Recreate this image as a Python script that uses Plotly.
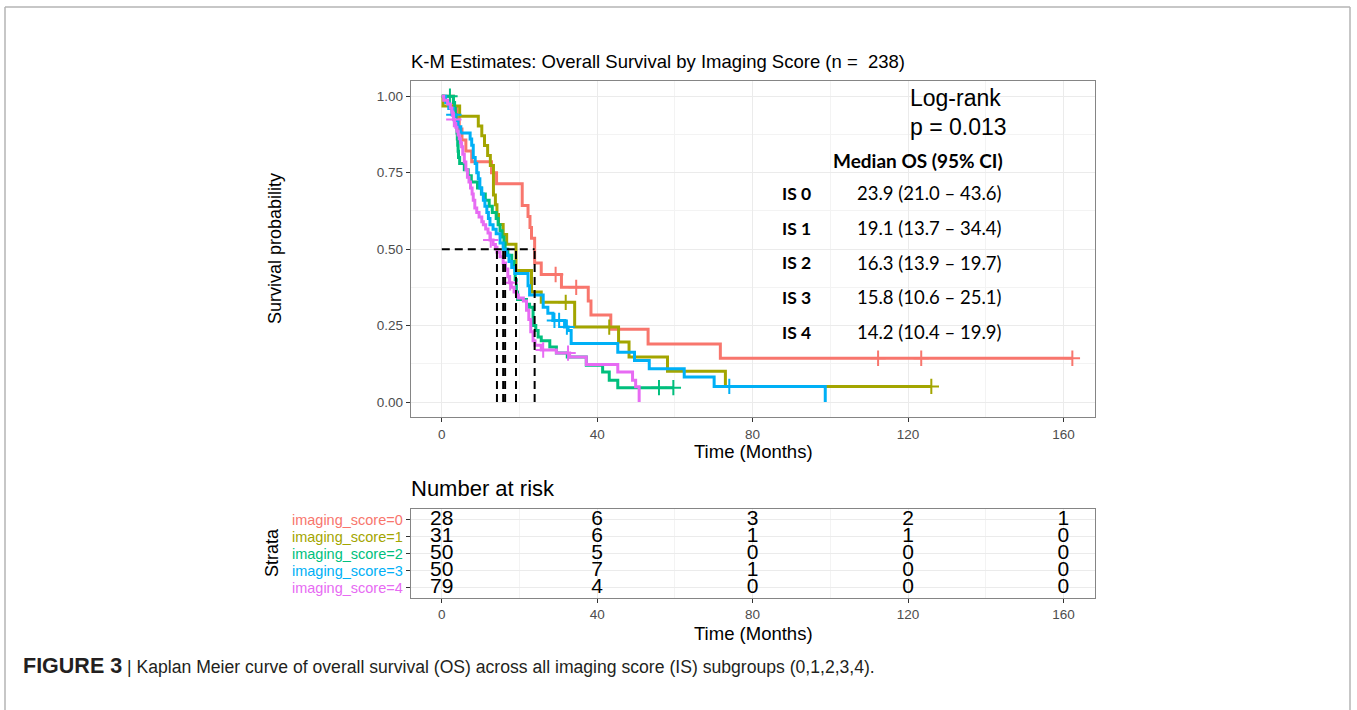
import plotly.graph_objects as go

# ---------------- data ----------------
strata = ["imaging_score=0", "imaging_score=1", "imaging_score=2", "imaging_score=3", "imaging_score=4"]
colors = ["#F8766D", "#A3A500", "#00BF7D", "#00B0F6", "#E76BF3"]

times_is0 = [3.0, 3.8, 4.5, 5.2, 6.2, 7.7, 12.8, 14.1, 20.7, 22.2, 22.7, 23.1, 23.9, 25.6, 30.8, 37.7, 38.4, 43.5, 53.1, 71.7]
surv_is0 = [0.964, 0.929, 0.893, 0.857, 0.821, 0.786, 0.750, 0.714, 0.643, 0.607, 0.571, 0.536, 0.455, 0.417, 0.375, 0.330, 0.285, 0.238, 0.190, 0.143]
cens_is0 = [29.3, 34.6, 112.3, 123.4, 162.3]
end_is0 = 162.3

times_is1 = [0.3, 4.6, 9.4, 10.3, 11.0, 11.8, 12.5, 13.3, 13.8, 14.2, 14.6, 15.8, 16.7, 19.1, 23.1, 25.6, 34.2, 45.5, 48.2, 58.1, 73.0]
surv_is1 = [0.968, 0.935, 0.903, 0.871, 0.839, 0.806, 0.774, 0.677, 0.645, 0.613, 0.581, 0.548, 0.516, 0.430, 0.360, 0.326, 0.245, 0.196, 0.147, 0.101, 0.051]
cens_is1 = [31.9, 43.1, 126.0]
end_is1 = 126.0

times_is2 = [3.0, 3.3, 3.5, 3.7, 3.8, 3.9, 4.0, 4.1, 4.2, 4.3, 4.6, 5.8, 6.8, 7.6, 9.2, 10.2, 11.2, 12.2, 13.0, 14.0,
             14.5, 15.0, 15.5, 16.0, 16.3, 17.0, 18.0, 18.6, 18.9, 19.2, 19.5, 21.8, 22.6, 23.5, 24.2, 24.8, 25.6, 27.8, 29.5, 32.3,
             37.2, 41.4, 43.1, 45.3]
surv_is2 = [0.98, 0.96, 0.94, 0.92, 0.90, 0.88, 0.86, 0.84, 0.82, 0.80, 0.78, 0.76, 0.74, 0.72, 0.70, 0.68, 0.66, 0.64, 0.62, 0.60,
            0.58, 0.56, 0.54, 0.52, 0.50, 0.48, 0.46, 0.44, 0.40, 0.36, 0.335, 0.32, 0.31, 0.25, 0.234, 0.213, 0.20, 0.18, 0.16, 0.147,
            0.12, 0.098, 0.071, 0.047]
cens_is2 = [2.1, 55.9, 59.6]
end_is2 = 59.6

times_is3 = [1.0, 1.8, 2.6, 3.4, 4.2, 4.9, 7.3, 7.7, 8.1, 8.6, 9.0, 9.4, 9.8, 10.3, 10.7, 11.1, 11.6, 12.0, 12.4, 13.2,
             14.0, 15.0, 15.8, 16.7, 17.3, 18.0, 18.8, 22.2, 22.6, 26.1, 27.3, 28.6, 31.6, 32.5, 33.3, 45.3, 49.6, 53.4, 62.4, 70.1,
             98.7]
surv_is3 = [0.98, 0.96, 0.94, 0.92, 0.90, 0.88, 0.86, 0.84, 0.80, 0.78, 0.75, 0.73, 0.70, 0.68, 0.66, 0.64, 0.62, 0.60, 0.58, 0.565,
            0.55, 0.52, 0.50, 0.48, 0.46, 0.44, 0.42, 0.38, 0.35, 0.31, 0.29, 0.267, 0.245, 0.234, 0.191, 0.163, 0.136, 0.109, 0.082, 0.051,
            0.0]
cens_is3 = [3.1, 29.0, 30.2, 32.2, 74.0]
end_is3 = 98.7

times_is4 = [0.5, 1.5, 2.2, 2.6, 2.8, 3.0, 3.3, 3.6, 3.9, 4.2, 4.5, 4.8, 5.1, 5.4, 5.8, 6.2, 6.6, 7.0, 7.4, 7.8,
             8.1, 8.5, 9.0, 9.6, 10.3, 10.7, 11.3, 11.9, 12.4, 13.2, 13.8, 14.2, 15.0, 15.8, 16.4, 17.0, 17.4, 17.9, 18.6, 19.2,
             19.7, 21.0, 21.8, 22.4, 22.9, 23.5, 24.0, 25.6, 29.5, 32.9, 37.2, 45.3, 49.1, 49.9, 50.8]
surv_is4 = [0.987, 0.975, 0.962, 0.949, 0.937, 0.924, 0.911, 0.899, 0.886, 0.873, 0.861, 0.848, 0.835, 0.81, 0.785, 0.76, 0.735, 0.72, 0.70, 0.68,
            0.66, 0.635, 0.62, 0.605, 0.59, 0.58, 0.566, 0.553, 0.53, 0.515, 0.506, 0.49, 0.475, 0.455, 0.435, 0.41, 0.39, 0.375, 0.36, 0.35,
            0.34, 0.33, 0.30, 0.27, 0.23, 0.20, 0.186, 0.17, 0.16, 0.147, 0.123, 0.098, 0.071, 0.05, 0.0]
cens_is4 = [3.1, 12.6, 17.6, 26.1, 32.5]
end_is4 = 50.8

risk_times = [0, 40, 80, 120, 160]
risk_is0 = [28, 6, 3, 2, 1]
risk_is1 = [31, 6, 1, 1, 0]
risk_is2 = [50, 5, 0, 0, 0]
risk_is3 = [50, 7, 1, 0, 0]
risk_is4 = [79, 4, 0, 0, 0]

median_os = [23.9, 19.1, 16.3, 15.8, 14.2]
ci_low = [21.0, 13.7, 13.9, 10.6, 10.4]
ci_high = [43.6, 34.4, 19.7, 25.1, 19.9]
is_labels = ["IS 0", "IS 1", "IS 2", "IS 3", "IS 4"]
logrank_p = "0.013"
n_total = 238

x_ticks = [0, 40, 80, 120, 160]
x_minor = [20, 60, 100, 140]
y_ticks = [0, 0.25, 0.5, 0.75, 1.0]
y_ticktext = ["0.00", "0.25", "0.50", "0.75", "1.00"]
y_minor = [0.125, 0.375, 0.625, 0.875]

# ---------------- figure ----------------
W, H = 1357, 710
def fx(p):
    return p / W
def fy(p):
    return 1 - p / H

FONT = "Liberation Sans, Arial, sans-serif"
groups = [
    (times_is0, surv_is0, cens_is0, end_is0),
    (times_is1, surv_is1, cens_is1, end_is1),
    (times_is2, surv_is2, cens_is2, end_is2),
    (times_is3, surv_is3, cens_is3, end_is3),
    (times_is4, surv_is4, cens_is4, end_is4),
]
risks = [risk_is0, risk_is1, risk_is2, risk_is3, risk_is4]

def surv_at(times, surv, t):
    s = 1.0
    for ti, si in zip(times, surv):
        if ti <= t:
            s = si
        else:
            break
    return s

fig = go.Figure()

for i, (tt, ss, cc, end) in enumerate(groups):
    xs = [0] + tt + [end]
    ys = [1.0] + ss + [ss[-1]]
    fig.add_trace(go.Scatter(x=xs, y=ys, mode="lines", line=dict(shape="hv", color=colors[i], width=3),
                             xaxis="x", yaxis="y", showlegend=False, hoverinfo="skip"))
    fig.add_trace(go.Scatter(x=cc, y=[surv_at(tt, ss, c) for c in cc], mode="markers",
                             marker=dict(symbol="cross-thin", size=11, color=colors[i],
                                         line=dict(width=2, color=colors[i])),
                             xaxis="x", yaxis="y", showlegend=False, hoverinfo="skip"))

# median lines
mx, my = [0, max(median_os)], [0.5, 0.5]
for m in median_os:
    mx += [None, m, m]
    my += [None, 0.0, 0.5]
fig.add_trace(go.Scatter(x=mx, y=my, mode="lines", line=dict(color="black", width=2, dash="8px,5px"),
                         xaxis="x", yaxis="y", showlegend=False, hoverinfo="skip"))

# risk table
nrow = len(strata)
for i, r in enumerate(risks):
    fig.add_trace(go.Scatter(x=risk_times, y=[nrow - i] * len(risk_times), mode="text",
                             text=[str(v) for v in r], textposition="middle center",
                             textfont=dict(family=FONT, size=21, color="black"),
                             xaxis="x2", yaxis="y2", showlegend=False, hoverinfo="skip"))

xdom = [fx(410.7), fx(1094.5)]
axis_common = dict(showline=True, mirror=True, linecolor="#858585", linewidth=1,
                   ticks="outside", ticklen=4, tickcolor="#333333", tickwidth=1,
                   tickfont=dict(family=FONT, size=13.5, color="#4D4D4D"),
                   showgrid=True, gridcolor="#EBEBEB", gridwidth=1.2, zeroline=False)

fig.update_layout(
    width=W, height=H, margin=dict(l=0, r=0, t=0, b=0),
    paper_bgcolor="white", plot_bgcolor="white",
    font=dict(family=FONT, color="black"),
    xaxis=dict(domain=xdom, range=[-8, 168], anchor="y", tickmode="array", tickvals=x_ticks,
               minor=dict(tickmode="array", tickvals=x_minor, showgrid=True, gridcolor="#F3F3F3", gridwidth=1, ticks=""),
               **axis_common),
    yaxis=dict(domain=[fy(417.3), fy(81)], range=[-0.05, 1.05], anchor="x", tickmode="array",
               tickvals=y_ticks, ticktext=y_ticktext,
               minor=dict(tickmode="array", tickvals=y_minor, showgrid=True, gridcolor="#F3F3F3", gridwidth=1, ticks=""),
               **axis_common),
    xaxis2=dict(domain=xdom, range=[-8, 168], anchor="y2", tickmode="array", tickvals=x_ticks,
                minor=dict(tickmode="array", tickvals=x_minor, showgrid=True, gridcolor="#F3F3F3", gridwidth=1, ticks=""),
                **axis_common),
    yaxis2=dict(domain=[fy(597.7), fy(509.3)], range=[0.4, nrow + 0.6], anchor="x2", tickmode="array",
                tickvals=[nrow - i for i in range(nrow)],
                ticktext=[f"<span style='color:{colors[i]}'>{s}</span>" for i, s in enumerate(strata)],
                **{k: v for k, v in axis_common.items() if k != "tickfont"},
                tickfont=dict(family=FONT, size=14.5, color="#4D4D4D")),
)

ann = []
def A(text, x, y, size, xanchor="center", angle=0, family=FONT, color="black"):
    ann.append(dict(text=text, x=fx(x), y=fy(y), xref="paper", yref="paper", showarrow=False,
                    xanchor=xanchor, yanchor="middle", textangle=angle,
                    font=dict(family=family, size=size, color=color)))

A(f"K-M Estimates: Overall Survival by Imaging Score (n =  {n_total})", 409, 62, 18.5, xanchor="left")
A("Time (Months)", 753.5, 451, 18.5)
A("Survival probability", 275, 249, 18, angle=-90)
A("Number at risk", 409, 488, 22, xanchor="left")
A("Strata", 272, 553, 18, angle=-90)
A("Time (Months)", 753.5, 633, 18.5)
A("Log-rank", 908, 98, 23, xanchor="left")
A(f"p = {logrank_p}", 908, 127, 23, xanchor="left")
A("<b>Median OS (95% CI)</b>", 917.5, 160, 19, family="Lato")
row_y = [193, 228, 263, 297, 332]
for i in range(len(is_labels)):
    A(f"<b>{is_labels[i]}</b>", 796, row_y[i], 17.5, family="Lato")
    A(f"{median_os[i]:.1f} ({ci_low[i]:.1f} \u2013 {ci_high[i]:.1f})", 929, row_y[i], 18.5, family="Lato")
A("<span style='font-size:21.5px'><b>FIGURE 3</b></span> | Kaplan Meier curve of overall survival (OS) across all imaging score (IS) subgroups (0,1,2,3,4).",
  21, 666, 17.6, xanchor="left", color="#231F20")
fig.update_layout(annotations=ann)

# outer frame of the figure panel
frame = "#B4B4B4"
shapes = [
    dict(type="line", xref="paper", yref="paper", x0=fx(5), x1=fx(1350), y0=fy(7), y1=fy(7), line=dict(color=frame, width=1.5)),
    dict(type="line", xref="paper", yref="paper", x0=fx(5), x1=fx(5), y0=fy(7), y1=0, line=dict(color=frame, width=1.5)),
    dict(type="line", xref="paper", yref="paper", x0=fx(1350), x1=fx(1350), y0=fy(7), y1=0, line=dict(color=frame, width=1.5)),
]
fig.update_layout(shapes=shapes)

fig.write_html("out.html", config={"displayModeBar": False},
               post_script="document.body.style.margin='0';document.body.style.overflow='hidden';")
